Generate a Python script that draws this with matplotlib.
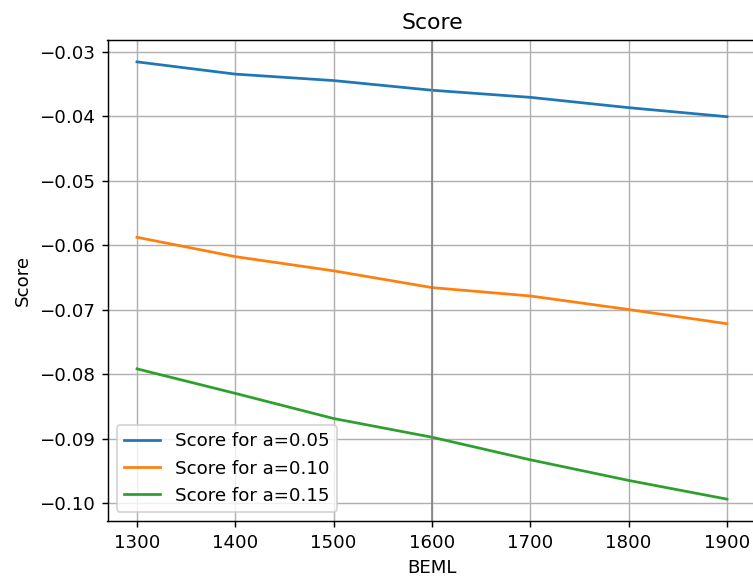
import matplotlib
matplotlib.use("Agg")
import matplotlib.pyplot as plt

beml = [1300, 1400, 1500, 1600, 1700, 1800, 1900]
score_a005 = [-0.0316, -0.0335, -0.0345, -0.0360, -0.0371, -0.0387, -0.0401]
score_a010 = [-0.0588, -0.0618, -0.0640, -0.0666, -0.0679, -0.0700, -0.0722]
score_a015 = [-0.0792, -0.0830, -0.0869, -0.0898, -0.0933, -0.0965, -0.0994]
labels = ["Score for a=0.05", "Score for a=0.10", "Score for a=0.15"]
marker_x = 1600

DPI = 131
fig = plt.figure(figsize=(753 / DPI, 577 / DPI), dpi=DPI)
ax = fig.add_axes([107.5 / 753, 1 - 521 / 577, 649 / 753, 481 / 577])

for series, lab in zip([score_a005, score_a010, score_a015], labels):
    ax.plot(beml, series, label=lab)

ax.axvline(marker_x, color="gray", linewidth=1.0, alpha=0.9)
ax.grid(True)
ax.set_title("Score")
ax.set_xlabel("BEML")
ax.set_ylabel("Score")
ax.legend(loc="lower left")

fig.savefig("out.png", dpi=DPI)
